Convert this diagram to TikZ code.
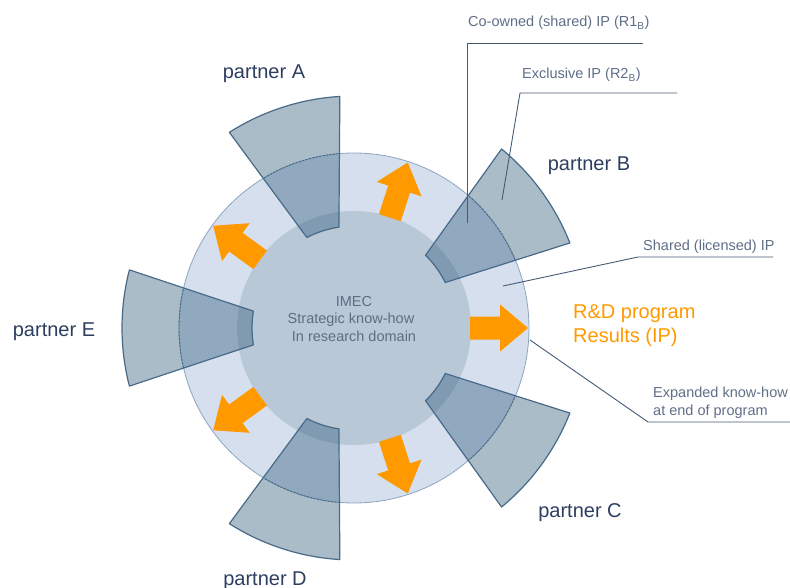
\documentclass[tikz,border=0pt]{standalone}
\usepackage{fontspec}
\setmainfont{Liberation Sans}
\definecolor{ringfill}{RGB}{213,223,237}
\definecolor{ringline}{RGB}{140,165,190}
\definecolor{hubfill}{RGB}{184,200,215}
\definecolor{wedgecol}{RGB}{52,95,125}
\definecolor{wedgeline}{RGB}{72,106,136}
\definecolor{arroworange}{RGB}{255,153,0}
\definecolor{partnerblue}{RGB}{45,62,95}
\definecolor{notegray}{RGB}{95,110,135}
\definecolor{hubtext}{RGB}{95,108,132}
\definecolor{leadercol}{RGB}{70,90,118}

% annular wedge of one partner, centred on the given angle
\newcommand\partnerwedge[1]{%
  ({#1-9.5}:102) arc[start angle={#1-9.5}, end angle={#1+9.5}, radius=102]
  -- ({#1+14.5}:232) arc[start angle={#1+14.5}, end angle={#1-14.5}, radius=232]
  -- cycle}

\begin{document}
\begin{tikzpicture}[x=1pt,y=-1pt,
  partnerlabel/.style={font=\fontsize{20}{24}\selectfont, text=partnerblue, anchor=base, inner sep=0pt},
  notelabel/.style={font=\fontsize{14.5}{17}\selectfont, text=notegray, anchor=base west, inner sep=0pt},
  hublabel/.style={font=\fontsize{14.5}{17}\selectfont, text=hubtext, anchor=base, inner sep=0pt},
  resultlabel/.style={font=\fontsize{20}{24}\selectfont, text=arroworange, anchor=base west, inner sep=0pt},
  leader/.style={draw=leadercol, line width=0.9pt, line join=round},
  wedgeshape/.style={fill=wedgecol, fill opacity=0.42, draw=wedgeline, line width=1.2pt, line join=round},
  ringedge/.style={draw=wedgeline, line width=0.9pt, dash pattern=on 2pt off 1.5pt},
  outarrow/.style={fill=arroworange, draw=none},
]
\useasboundingbox (0,0) rectangle (790,588);

% knowledge ring and IMEC core
\node[circle, minimum size=350pt, inner sep=0pt, fill=ringfill, draw=ringline, line width=0.8pt] (ring) at (354,328) {};
\node[circle, minimum size=234pt, inner sep=0pt, fill=hubfill] (hub) at (354,328) {};

\begin{scope}[shift={(354,328)}, yscale=-1]
  % results flowing outwards
  \foreach \a in {72,0,-72,144,216}{
    \begin{scope}[rotate=\a]
      \fill[outarrow] (116,-11.5) -- (146,-11.5) -- (146,-23.5) -- (174,0)
        -- (146,23.5) -- (146,11.5) -- (116,11.5) -- cycle;
    \end{scope}
  }
  % partner wedges
  \foreach \a in {108,36,-36,252,180}{
    \path[wedgeshape] \partnerwedge{\a};
    \begin{scope}
      \clip \partnerwedge{\a};
      \draw[ringedge] (0,0) circle[radius=175];
    \end{scope}
  }
\end{scope}

% core text
\node[hublabel] (imec) at (354,306) {IMEC};
\node[hublabel] (strat) at (351,323) {Strategic know-how};
\node[hublabel] (domain) at (354,341) {In research domain};

% partners
\node[partnerlabel] (pA) at (264,79) {partner A};
\node[partnerlabel] (pB) at (589,171) {partner B};
\node[partnerlabel] (pC) at (580,517) {partner C};
\node[partnerlabel] (pD) at (265,585) {partner D};
\node[partnerlabel] (pE) at (54,336) {partner E};

% programme results
\node[resultlabel] (rd) at (573,318) {R\&D program};
\node[resultlabel] (res) at (573,342) {Results (IP)};

% annotations
\node[notelabel] (coown) at (468,27) {Co-owned (shared) IP (R1\textsubscript{B})};
\node[notelabel] (excl) at (522,79) {Exclusive IP (R2\textsubscript{B})};
\node[notelabel] (shared) at (643,251) {Shared (licensed) IP};
\node[notelabel] (exp1) at (653,397) {Expanded know-how};
\node[notelabel] (exp2) at (653,415) {at end of program};

\coordinate (coEnd) at (643,43);
\coordinate (coBend) at (467,43);
\coordinate (coTip) at (467,223);
\coordinate (exEnd) at (677,93);
\coordinate (exBend) at (520,93);
\coordinate (exTip) at (502,200);
\coordinate (shEnd) at (773,257);
\coordinate (shBend) at (638,257);
\coordinate (shTip) at (503,286);
\coordinate (xpTip) at (530,340);
\coordinate (xpBend) at (648,422);
\coordinate (xpEnd) at (790,422);

\draw[leader] (coEnd) -- (coBend) -- (coTip);
\draw[leader] (exEnd) -- (exBend) -- (exTip);
\draw[leader] (shEnd) -- (shBend) -- (shTip);
\draw[leader] (xpTip) -- (xpBend) -- (xpEnd);
\end{tikzpicture}
\end{document}
